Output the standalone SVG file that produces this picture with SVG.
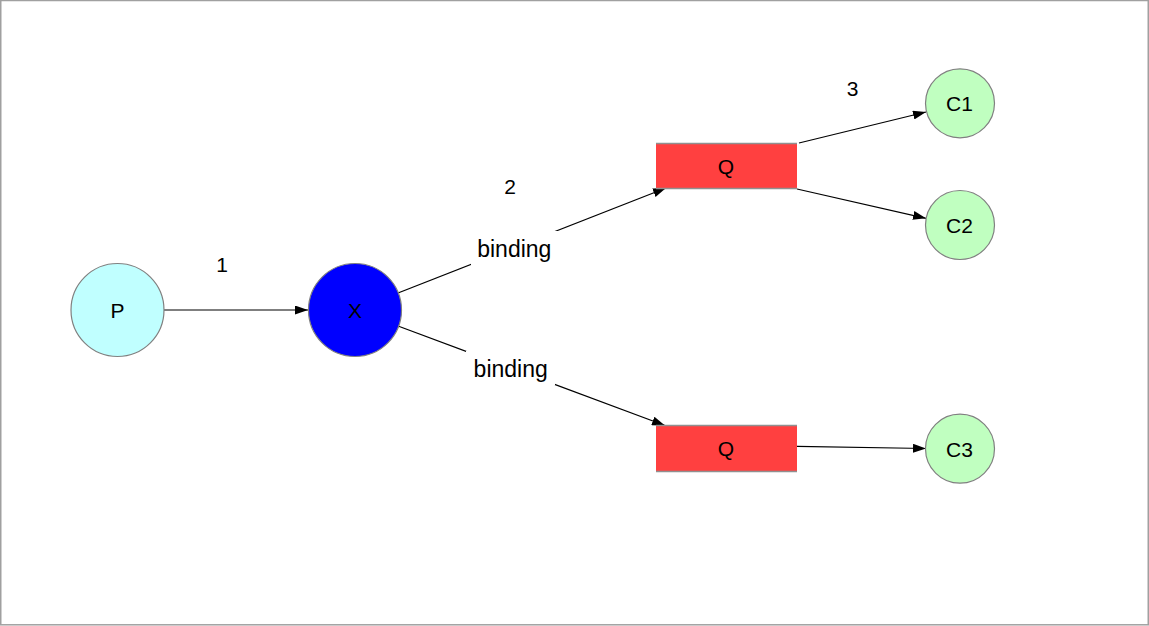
<svg xmlns="http://www.w3.org/2000/svg" width="1149" height="626" viewBox="0 0 1149 626">
  <style>
    .lbl { font-family: "Liberation Sans", Arial, Helvetica, sans-serif; font-size: 21px; fill: #000; text-anchor: middle; }
    .bind { font-size: 23px; }
    .edge { stroke: #000; stroke-width: 1.2; fill: none; marker-end: url(#arrow); }
    .circ { stroke: #808080; stroke-width: 1.2; }
    .queue { fill: #ff4040; }
    .qedge { stroke: #909090; stroke-width: 1.5; }
  </style>
  <defs>
    <marker id="arrow" viewBox="0 0 13 9" refX="13" refY="4.5" markerWidth="13" markerHeight="9" markerUnits="userSpaceOnUse" orient="auto">
      <path d="M0,0 L13,4.5 L0,9 Z" fill="#000"/>
    </marker>
  </defs>

  <!-- canvas -->
  <rect x="0" y="0" width="1149" height="626" fill="#fff"/>
  <rect x="0.75" y="0.5" width="1147.5" height="624.3" fill="none" stroke="#a0a0a0" stroke-width="1.5"/>

  <!-- connectors -->
  <g id="connectors">
    <line class="edge" x1="164" y1="310" x2="308" y2="310"/>
    <line class="edge" x1="398" y1="293" x2="666" y2="188"/>
    <line class="edge" x1="398" y1="326" x2="665" y2="425.5"/>
    <line class="edge" x1="799" y1="143" x2="926" y2="112"/>
    <line class="edge" x1="797" y1="189" x2="926" y2="218.3"/>
    <line class="edge" x1="797" y1="446.3" x2="926" y2="448.5"/>
    <!-- binding labels sit on white boxes that break the lines -->
    <rect x="471" y="231" width="89" height="35" fill="#fff"/>
    <text class="lbl bind" x="514.3" y="257.3">binding</text>
    <rect x="466" y="351" width="89" height="34" fill="#fff"/>
    <text class="lbl bind" x="510.7" y="376.7">binding</text>
    <text class="lbl" x="222" y="272.3">1</text>
    <text class="lbl" x="510" y="194">2</text>
    <text class="lbl" x="852.7" y="96">3</text>
  </g>

  <g id="node-p">
    <circle class="circ" cx="117.5" cy="310" r="46.5" fill="#c0ffff"/>
    <text class="lbl" x="117.5" y="317.7">P</text>
  </g>
  <g id="node-x">
    <circle class="circ" cx="355" cy="310" r="46.5" fill="#0000ff"/>
    <text class="lbl" x="355" y="318">X</text>
  </g>
  <g id="node-q1">
    <rect class="queue" x="656" y="143.5" width="141" height="45"/>
    <line class="qedge" x1="656" y1="143.5" x2="797" y2="143.5"/>
    <line class="qedge" x1="656" y1="188.5" x2="797" y2="188.5"/>
    <text class="lbl" x="726" y="174">Q</text>
  </g>
  <g id="node-q2">
    <rect class="queue" x="656" y="425.5" width="141" height="46"/>
    <line class="qedge" x1="656" y1="425.5" x2="797" y2="425.5"/>
    <line class="qedge" x1="656" y1="471.5" x2="797" y2="471.5"/>
    <text class="lbl" x="726" y="456">Q</text>
  </g>
  <g id="node-c1">
    <circle class="circ" cx="960" cy="103.3" r="34.5" fill="#c0ffc0"/>
    <text class="lbl" x="959.5" y="110.7">C1</text>
  </g>
  <g id="node-c2">
    <circle class="circ" cx="960" cy="225" r="34.5" fill="#c0ffc0"/>
    <text class="lbl" x="959.5" y="232.5">C2</text>
  </g>
  <g id="node-c3">
    <circle class="circ" cx="960" cy="448.7" r="34.5" fill="#c0ffc0"/>
    <text class="lbl" x="959.5" y="456.5">C3</text>
  </g>
</svg>
